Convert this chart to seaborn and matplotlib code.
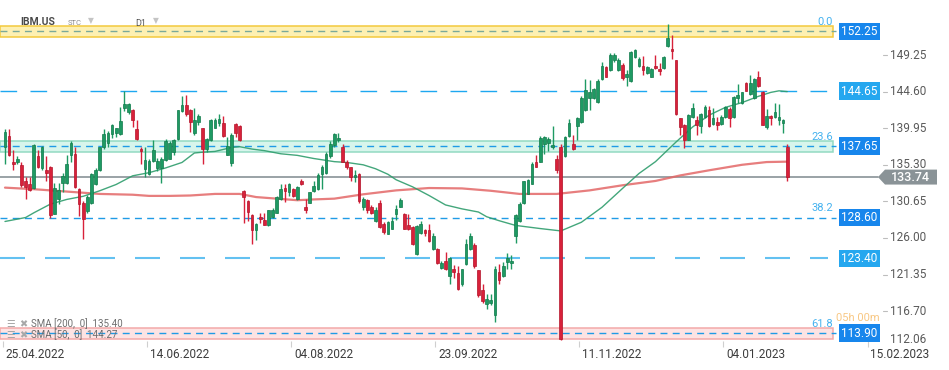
import numpy as np
import matplotlib
matplotlib.use("Agg")
import matplotlib.pyplot as plt
import seaborn as sns
from matplotlib.patches import Polygon
from matplotlib.transforms import ScaledTranslation


# ----------------------------
# Data
# ----------------------------

opens = [
    137.5, 138.9, 135.7, 135.6, 135.3, 133.2, 132.8, 132.3, 136.4, 134.9,
    134.6, 135.0, 129.1, 130.9, 133.0, 133.0, 136.6, 136.7, 132.2, 130.4,
    129.4, 130.4, 132.8, 134.6, 137.6, 138.1, 139.2, 139.3, 139.2, 142.5,
    142.0, 142.2, 139.8, 137.3, 134.8, 134.1, 135.8, 134.9, 134.9, 135.9,
    136.1, 136.9, 138.6, 142.1, 142.9, 142.3, 139.3, 140.7, 140.0, 137.3,
    138.4, 140.0, 140.6, 140.6, 136.6, 135.5, 140.5, 140.2, 132.0, 130.7,
    128.9, 127.0, 128.65, 128.3, 127.6, 128.65, 129.2, 130.9, 132.4, 131.9,
    132.2, 130.9, 133.3, 129.9, 130.5, 132.0, 132.2, 134.1, 134.2, 136.4,
    137.8, 138.4, 137.6, 135.6, 135.0, 133.7, 134.1, 130.0, 130.8, 130.0,
    128.2, 130.4, 127.8, 126.5, 127.2, 129.0, 130.0, 129.1, 127.6, 127.4,
    124.0, 126.6, 127.0, 127.0, 124.6, 124.6, 122.2, 123.1, 121.2, 122.0,
    121.5, 120.2, 122.7, 124.6, 125.1, 121.9, 119.4, 117.6, 117.8, 116.2,
    121.7, 121.2, 123.0, 122.8, 126.3, 128.2, 130.4, 131.6, 132.9, 135.6,
    135.7, 137.9, 138.1, 137.5, 136.0, 137.6, 136.4, 138.9, 137.9, 140.2,
    140.7, 142.2, 143.8, 143.8, 143.3, 146.2, 147.7, 147.3, 148.65, 147.3,
    148.0, 146.4, 145.9, 149.0, 147.8, 147.9, 147.0, 146.5, 147.9, 147.5,
    147.6, 150.4, 150.0, 148.6, 141.2, 140.35, 138.5, 141.4, 141.0, 140.2,
    141.4, 142.3, 140.5, 140.8, 140.5, 141.4, 142.35, 141.4, 143.75, 143.1,
    145.75, 144.3, 143.8, 146.4, 144.6, 140.1, 141.5, 141.4, 141.0, 140.6,
    137.6,
]

highs = [
    139.8, 139.8, 137.2, 136.4, 135.6, 133.7, 133.7, 137.9, 137.2, 137.7,
    136.4, 135.2, 133.0, 133.0, 134.2, 136.6, 138.3, 137.5, 132.4, 130.7,
    131.5, 134.3, 134.9, 137.6, 139.8, 139.6, 140.5, 140.0, 142.6, 144.7,
    143.2, 142.4, 141.0, 137.6, 137.6, 136.0, 138.4, 136.2, 136.3, 138.6,
    138.3, 138.6, 142.3, 144.1, 144.2, 142.4, 142.5, 141.7, 140.0, 138.7,
    141.1, 141.3, 141.7, 141.5, 138.8, 139.4, 140.6, 140.3, 132.1, 130.8,
    129.0, 127.9, 129.2, 129.2, 129.6, 129.8, 131.3, 132.8, 132.8, 133.0,
    132.4, 132.6, 133.5, 130.9, 131.8, 133.2, 134.2, 135.3, 136.9, 138.3,
    139.3, 139.4, 137.9, 135.9, 135.0, 134.6, 134.3, 131.2, 131.0, 130.2,
    130.0, 130.8, 128.0, 128.1, 128.7, 130.2, 131.1, 129.2, 129.1, 127.5,
    127.6, 128.2, 127.1, 127.8, 126.6, 124.7, 123.1, 124.2, 123.6, 122.6,
    122.5, 122.1, 125.9, 126.6, 125.4, 121.9, 120.1, 118.9, 118.9, 122.4,
    122.7, 122.9, 124.1, 123.8, 129.0, 130.6, 133.3, 133.5, 135.6, 136.5,
    138.9, 138.9, 138.8, 140.2, 136.5, 137.9, 138.9, 141.1, 139.1, 141.4,
    144.1, 146.2, 146.1, 145.0, 146.2, 148.3, 147.9, 149.5, 149.5, 148.9,
    148.2, 147.4, 149.7, 150.0, 149.0, 149.1, 147.8, 147.6, 149.3, 148.2,
    149.1, 153.2, 151.8, 148.65, 141.3, 140.5, 141.7, 143.2, 141.5, 141.9,
    142.9, 142.8, 142.5, 141.4, 141.6, 142.8, 142.6, 144.1, 145.6, 144.6,
    145.8, 146.7, 146.3, 147.2, 144.7, 142.35, 141.6, 143.1, 143.0, 141.1,
    138.0,
]

lows = [
    135.4, 136.4, 134.7, 135.4, 132.5, 131.0, 132.0, 132.2, 134.9, 134.7,
    133.3, 128.6, 129.1, 130.3, 131.8, 132.8, 135.6, 132.4, 128.8, 125.9,
    129.2, 130.3, 132.7, 134.5, 137.3, 137.5, 138.7, 138.8, 139.1, 142.1,
    141.8, 140.1, 138.5, 135.4, 133.7, 134.0, 135.6, 134.5, 133.0, 135.8,
    136.0, 136.6, 138.4, 142.0, 141.5, 139.5, 139.1, 140.3, 135.4, 136.9,
    138.3, 140.0, 140.2, 138.8, 136.6, 135.2, 138.8, 138.3, 127.9, 128.1,
    125.3, 125.8, 127.9, 127.6, 127.5, 128.6, 129.2, 130.8, 130.6, 131.3,
    131.2, 130.8, 132.7, 129.2, 130.4, 131.9, 132.1, 132.2, 134.1, 136.2,
    137.5, 138.2, 135.6, 134.8, 133.3, 133.1, 130.5, 129.6, 129.2, 129.0,
    128.0, 127.3, 126.5, 126.5, 127.1, 128.3, 129.9, 127.1, 127.0, 125.1,
    123.9, 126.5, 126.3, 125.5, 124.5, 122.7, 122.1, 121.9, 120.2, 120.9,
    119.4, 119.9, 122.6, 124.5, 122.2, 118.5, 117.7, 117.0, 117.5, 115.3,
    120.2, 121.1, 122.1, 122.1, 125.4, 128.0, 130.3, 131.6, 132.8, 135.0,
    135.6, 136.7, 137.1, 137.3, 134.2, 113.1, 136.3, 138.8, 137.2, 138.5,
    140.6, 142.1, 142.2, 143.6, 143.2, 146.1, 146.4, 147.2, 148.4, 147.2,
    146.1, 145.3, 145.8, 148.9, 147.7, 146.7, 146.9, 146.4, 147.5, 146.7,
    147.5, 150.3, 148.7, 141.6, 139.1, 137.4, 138.4, 141.3, 139.1, 139.4,
    141.3, 140.1, 140.4, 139.7, 140.4, 141.3, 140.1, 141.3, 143.1, 143.0,
    144.65, 144.2, 143.6, 145.2, 140.3, 139.9, 140.4, 141.3, 140.35, 139.4,
    133.25,
]

closes = [
    139.5, 136.6, 135.4, 136.1, 132.7, 132.5, 132.1, 137.8, 135.0, 137.6,
    134.3, 128.9, 132.3, 132.1, 133.9, 135.4, 138.1, 132.5, 130.3, 128.4,
    131.2, 134.1, 134.7, 137.5, 139.2, 139.3, 140.3, 140.0, 140.9, 143.0,
    143.0, 141.0, 138.6, 137.0, 135.9, 135.8, 137.2, 135.8, 136.0, 138.3,
    138.1, 138.4, 142.2, 142.9, 141.7, 140.7, 141.0, 141.5, 137.3, 138.6,
    141.0, 141.0, 141.1, 139.0, 137.7, 139.1, 139.4, 138.4, 131.2, 129.3,
    127.0, 127.8, 128.4, 127.6, 129.5, 129.6, 131.2, 132.2, 132.0, 132.8,
    131.3, 132.5, 132.8, 129.5, 131.8, 132.6, 134.0, 135.0, 136.7, 138.0,
    139.2, 138.7, 135.7, 135.0, 133.7, 134.0, 130.7, 130.9, 129.5, 129.2,
    129.6, 127.4, 126.8, 128.0, 128.1, 129.7, 130.8, 127.2, 127.2, 125.3,
    127.5, 127.8, 126.6, 125.6, 126.3, 122.8, 122.8, 122.0, 123.4, 121.7,
    119.5, 122.0, 125.3, 126.3, 122.4, 118.8, 118.0, 118.3, 118.1, 122.0,
    120.6, 122.4, 123.4, 123.1, 128.9, 130.3, 133.2, 133.4, 135.4, 135.0,
    138.7, 138.8, 138.6, 137.8, 134.7, 113.2, 138.8, 140.6, 137.3, 141.2,
    143.8, 144.8, 144.6, 144.95, 146.0, 147.9, 146.5, 149.2, 149.3, 148.65,
    146.3, 146.8, 149.6, 149.9, 148.7, 147.4, 147.7, 147.5, 147.6, 147.2,
    149.0, 151.4, 149.7, 141.8, 140.1, 138.4, 141.6, 142.5, 140.4, 141.8,
    142.6, 140.2, 141.3, 140.4, 141.4, 142.6, 141.3, 143.95, 144.2, 144.5,
    144.7, 145.75, 146.2, 145.25, 140.4, 141.5, 141.2, 142.05, 141.4, 141.0,
    133.74,
]

# moving averages, read point by point (bar index, value)
sma200_idx = [0, 7, 11, 15, 23, 31, 35, 40, 45, 51, 57, 61, 66, 71, 75, 80,
              87, 95, 103, 111, 118, 125, 134, 142, 150, 158, 164, 171, 179, 185, 190]
sma200_val = [132.4, 132.2, 132.05, 131.9, 131.6, 131.5, 131.35, 131.35, 131.4, 131.6,
              131.6, 131.2, 131.0, 130.8, 130.9, 131.0, 131.55, 132.05, 132.35, 132.3,
              132.0, 131.6, 131.6, 132.05, 132.7, 133.25, 133.95, 134.6, 135.3, 135.65, 135.7]

sma50_idx = [0, 5, 7, 11, 15, 19, 23, 27, 31, 35, 39, 43, 46, 48, 51, 55, 57, 60, 63,
             67, 71, 75, 80, 83, 87, 90, 93, 95, 99, 103, 107, 111, 115, 117, 120, 124,
             130, 135, 140, 145, 150, 154, 158, 163, 167, 171, 175, 179, 183, 186, 188, 190]
sma50_val = [128.1, 128.6, 129.2, 130.3, 130.9, 131.3, 132.0, 132.8, 133.9, 134.3,
             134.9, 135.6, 136.8, 136.9, 137.0, 137.5, 137.6, 137.3, 137.1, 136.7,
             136.5, 136.1, 135.7, 135.6, 135.3, 134.8, 134.1, 133.4, 132.5, 131.4,
             130.2, 129.7, 129.3, 128.7, 128.2, 127.6, 127.2, 126.9, 128.0, 129.9,
             132.3, 134.2, 135.7, 138.2, 140.1, 141.6, 142.6, 143.2, 144.0, 144.5,
             144.7, 144.6]

date_ticks  = [0, 35, 70, 105, 140, 175, 210]
date_labels = ["25.04.2022", "14.06.2022", "04.08.2022", "23.09.2022",
               "11.11.2022", "04.01.2023", "15.02.2023"]

price_ticks  = [149.25, 144.60, 139.95, 135.30, 130.65, 126.00, 121.35, 116.70]
bottom_price = 112.06
top_price    = 156.24

fib_levels  = [152.25, 137.65, 128.60, 113.90]
fib_names   = ["0.0", "23.6", "38.2", "61.8"]
line_levels = [144.65, 123.40]
last_price  = 133.74
sma_legend  = ["SMA [200,  0]  135.40", "SMA [50,  0]  144.27"]


# ----------------------------
# Layout / colours
# ----------------------------

W, H   = 949, 370
PX_BAR = 4.117   # pixels per bar
X0     = 5       # pixel of the first candle
PLOT_H = 347     # plot height in pixels

GREEN, GREEN_EDGE = "#1e9a63", "#127a4b"
RED, RED_EDGE     = "#d8213a", "#b3152b"
BOX_DARK, BOX_LIGHT = "#1786ec", "#25a7ef"

sns.set_theme(style="white")
plt.rcParams["font.family"] = ["Roboto", "DejaVu Sans"]

fig = plt.figure(figsize=(W / 100, H / 100), dpi=100)
ax = fig.add_axes([0, (H - PLOT_H) / H, 1, PLOT_H / H])
ax.set_xlim(-X0 / PX_BAR, (W - X0) / PX_BAR)
ax.set_ylim(bottom_price + 0.09, top_price)
for s in ax.spines.values():
    s.set_visible(False)
ax.set_yticks([])

yx = ax.get_yaxis_transform()   # x in axes fraction, y in price
fx = lambda px: px / W


# ----------------------------
# Fibonacci bands and levels
# ----------------------------

band_cols = {152.25: ("#fdf0b2", "#f3c93d"),
             137.65: ("#d7f5ec", "#93dac2"),
             113.90: ("#fde3e3", "#f3a9a9")}
for lv in fib_levels:
    fc, ec = band_cols.get(lv, (None, None))
    if fc:
        ax.axhspan(lv - 0.68, lv + 0.68, xmin=0, xmax=fx(833),
                   facecolor=fc, edgecolor=ec, lw=1.1, zorder=0.5)

for lv, name in zip(fib_levels, fib_names):
    dcol = "#7aa99a" if lv == 152.25 else "#1f9be6"
    ax.axhline(lv, xmin=0, xmax=fx(836), color=dcol, lw=1,
               dashes=(5, 3.8), zorder=1)
    ax.text(fx(833), lv + 1.2, name, transform=yx, ha="right", va="center",
            color="#45b2ef", fontsize=8, zorder=6)
    ax.text(fx(841), lv, f"{lv:.2f}", transform=yx, ha="left", va="center",
            color="white", fontsize=8.5, zorder=7,
            bbox=dict(boxstyle="square,pad=0.2", fc=BOX_DARK, ec="none"))

for lv in line_levels:
    lw, lc = (1.0, "#1ea8f0") if lv > 130 else (1.5, "#63c1f1")
    ax.axhline(lv, xmin=0, xmax=fx(828), color=lc, lw=lw,
               dashes=(12, 9.6), zorder=1)
    ax.text(fx(841), lv, f"{lv:.2f}", transform=yx, ha="left", va="center",
            color="white", fontsize=8.5, zorder=7,
            bbox=dict(boxstyle="square,pad=0.2", fc=BOX_LIGHT, ec="none"))

# countdown text next to 61.8, kept clear of the level box
ax.text(fx(836), fib_levels[-1] + 1.9, "05h 00m", transform=yx, ha="left",
        va="center", color="#f39a1e", alpha=0.55, fontsize=8, zorder=6)


# ----------------------------
# Current price line
# ----------------------------

ax.axhline(last_price, xmin=0, xmax=fx(878), color="#7f898e", lw=1.1, zorder=1.5)
arrow = Polygon([(fx(878), last_price), (fx(885), last_price + 0.95),
                 (fx(937), last_price + 0.95), (fx(937), last_price - 0.95),
                 (fx(885), last_price - 0.95)],
                closed=True, transform=yx, facecolor="#8a9397", edgecolor="none",
                zorder=7, clip_on=False)
ax.add_patch(arrow)
ax.text(fx(911), last_price, f"{last_price:.2f}", transform=yx, ha="center",
        va="center", color="white", fontsize=9, fontweight="medium", zorder=8)


# ----------------------------
# Moving averages
# ----------------------------

sns.lineplot(x=sma200_idx, y=sma200_val, ax=ax, color="#e36767", lw=1.6,
             alpha=0.85, zorder=2)
sns.lineplot(x=sma50_idx, y=sma50_val, ax=ax, color="#2f9d6d", lw=1.0,
             alpha=0.9, zorder=2)


# ----------------------------
# Candles
# ----------------------------

o = np.array(opens)
h = np.array(highs)
l = np.array(lows)
c = np.array(closes)
idx = np.arange(len(c))
up = c >= o
fill = np.where(up, GREEN, RED)
edge = np.where(up, GREEN_EDGE, RED_EDGE)

ax.vlines(idx, l, h, colors=fill, lw=1, zorder=3)
ax.bar(idx, np.maximum(np.abs(c - o), 0.15), bottom=np.minimum(o, c),
       width=0.66, color=fill, edgecolor=edge, linewidth=0.5, zorder=4)


# ----------------------------
# Axes text
# ----------------------------

ax.set_xticks(np.array(date_ticks) - 0.5)
ax.set_xticklabels(date_labels, ha="left")
ax.tick_params(axis="x", direction="in", length=4, width=0.8, color="#cfcfcf",
               pad=1, labelsize=8.5, labelcolor="#3c3c3c", bottom=True)
for lbl in ax.get_xticklabels():
    lbl.set_transform(lbl.get_transform() + ScaledTranslation(2 / 72, 0, fig.dpi_scale_trans))

for p in price_ticks:
    ax.plot([fx(883), fx(887)], [p, p], transform=yx, color="#bdbdbd", lw=0.8,
            clip_on=False)
    ax.text(fx(890), p, f"{p:.2f}", transform=yx, ha="left", va="center",
            color="#5a5a5a", fontsize=8.5)
ax.annotate(f"{bottom_price:.2f}", xy=(fx(890), bottom_price), xycoords=yx,
            xytext=(0, 6), textcoords="offset points", ha="left", va="center",
            color="#5a5a5a", fontsize=8.5)

# header
fig.text(fx(20), 1 - 22 / H, "IBM.US", fontsize=7.5, fontweight="bold",
         color="#4a4a4a", va="center")
fig.text(fx(68), 1 - 23 / H, "STC", fontsize=5.5, color="#8a8a8a", va="center")
fig.text(fx(88), 1 - 21 / H, "▼", fontsize=5.5, color="#c4c4c4", va="center")
fig.text(fx(135), 1 - 23 / H, "D1", fontsize=6.5, color="#555555", va="center")
fig.text(fx(153), 1 - 21 / H, "▼", fontsize=5.5, color="#c4c4c4", va="center")

# indicator legend
for k, txt in enumerate(sma_legend):
    yy = 1 - (324 + 11 * k) / H
    fig.text(fx(6), yy, "☰", family="DejaVu Sans", fontsize=7, color="#a8a8a8", va="center")
    fig.text(fx(19), yy, "✖", family="DejaVu Sans", fontsize=7, color="#a8a8a8", va="center")
    fig.text(fx(31), yy, txt, fontsize=7, color="#6e6e6e", va="center")

fig.savefig("out.png", dpi=100)
plt.close(fig)
